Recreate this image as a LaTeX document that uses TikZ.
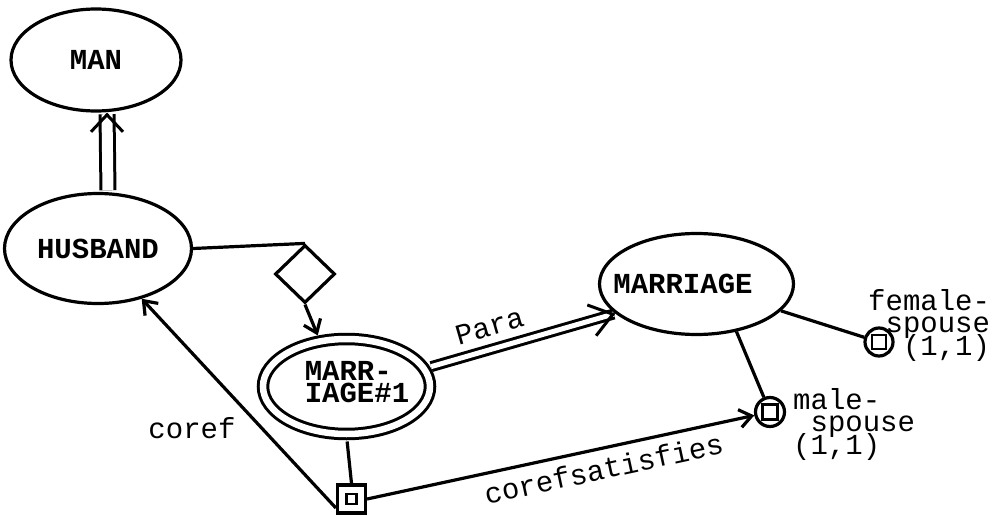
\documentclass[tikz,border=0pt]{standalone}
\usepackage{fontspec}
\setmonofont{Liberation Mono}
\usetikzlibrary{shapes.geometric,arrows.meta,calc}
\setlength{\lineskiplimit}{-100pt}
\begin{document}
\begin{tikzpicture}[x=1pt,y=-1pt,
  lw/.style={line width=3.2pt},
  tfont/.style={font=\ttfamily\fontsize{29}{22.5}\selectfont},
  bfont/.style={font=\ttfamily\bfseries\fontsize{29}{22}\selectfont},
  concept/.style={ellipse, draw, lw, inner sep=0pt, bfont},
  lab/.style={tfont, inner sep=0pt},
  arr/.style={lw, -{Straight Barb[length=12pt,width=18pt]}},
  dbl/.style={line width=3pt, double, double distance=#1},
  barb/.style 2 args={line width=3pt, -{Straight Barb[length=#1,width=#2]}},
  inbox/.style={path picture={\draw[line width=2.4pt] ([shift={(-#1,-#1)}]path picture bounding box.center) rectangle ([shift={(#1,#1)}]path picture bounding box.center);}},
]
\useasboundingbox (0,0) rectangle (993,516);
\node[concept, minimum width=170pt, minimum height=102pt] (man) at (96,60) {MAN};
\node[concept, minimum width=187pt, minimum height=110pt] (hus) at (98,248.5) {HUSBAND};
\node[diamond, draw, lw, minimum width=60pt, minimum height=58pt, inner sep=0pt] (dia) at (305,274) {};
\node[concept, double, double distance=6.5pt, line width=3pt, minimum width=167pt, minimum height=95pt,
  label={[bfont, inner sep=0pt, align=left, xshift=10.5pt, yshift=4pt]center:{MARR-\\IAGE\#1}}] (m1) at (346.5,386.5) {};
\node[concept, minimum width=194pt, minimum height=101pt,
  label={[bfont, inner sep=0pt, xshift=-13.5pt]center:MARRIAGE}] (mar) at (696.5,284) {};
\node[draw, lw, minimum size=28pt, inner sep=0pt, inbox=5pt] (sq) at (351.5,499) {};
\node[circle, draw, lw, minimum size=29pt, inner sep=0pt, inbox=7.5pt] (mal) at (770,412) {};
\node[circle, draw, lw, minimum size=28pt, inner sep=0pt, inbox=7pt] (fem) at (879,342) {};
\node[lab, anchor=north west, align=left] (malt) at (793,388) {male-\\\phantom{m}spouse\\(1,1)};
\node[lab, anchor=north west, align=left] (femt) at (868,289) {female-\\\phantom{f}spouse\\\phantom{fe}(1,1)};

% HUSBAND => MAN
\draw[dbl=11pt, shorten <=1.6pt, shorten >=1.6pt] ([xshift=10pt]hus.north) -- ([xshift=11pt]man.south);
\draw[barb={17pt}{32pt}] ([xshift=11pt,yshift=-1pt]man.south) -- ([xshift=11pt]man.south);
\draw[lw] (hus.east) -- (dia.north);
\draw[arr, shorten >=5pt] (dia.south) -- (m1.120);
% Para
\draw[dbl=5pt, shorten <=6pt, shorten >=1.6pt] (m1.13) -- (mar.200) node[lab, pos=0.37, sloped, above=11pt] (parat) {Para};
\draw[barb={22pt}{32pt}] ($(mar.200)!1pt!(m1.13)$) -- (mar.200);
\draw[lw, shorten <=6pt] (m1.south) -- (sq.north);
\draw[arr] (sq.-150) -- (hus.-49) node[lab, pos=0.38, left=25pt] (coreft) {coref};
\draw[arr] (sq.east) -- (mal) node[lab, pos=0.6, sloped, below=8pt] (cst) {corefsatisfies};
\draw[lw] (mar) -- (fem);
\draw[lw] (mar.-50) -- (mal);
\end{tikzpicture}
\end{document}
